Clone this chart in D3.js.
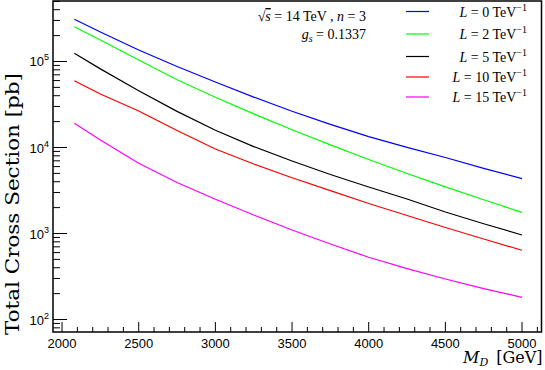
<!DOCTYPE html>
<html>
<head>
<meta charset="utf-8">
<script src="https://cdn.jsdelivr.net/npm/d3@7"></script>
<style>
body { margin: 0; background: #fff; }
svg { display: block; }
</style>
</head>
<body>
<svg id="chart"></svg>
<script>
var massPoints = [2080, 2250, 2500, 2750, 3000, 3250, 3500, 3750, 4000, 4250, 4500, 4750, 5000];
var xsecL0  = [309600, 220300, 136100, 87460, 57750, 38550, 26430, 18560, 13390, 10050, 7650, 5730, 4350];
var xsecL2  = [253900, 177800, 104100, 61430, 38340, 24590, 16060, 10720, 7250, 4990, 3480, 2470, 1760];
var xsecL5  = [124500, 82040, 45760, 26290, 15900, 10250, 6970, 4850, 3470, 2520, 1780, 1297, 961];
var xsecL10 = [59800, 41900, 26570, 15760, 9610, 6430, 4450, 3150, 2230, 1620, 1174, 863, 638];
var xsecL15 = [19110, 12220, 6570, 3910, 2500, 1640, 1098, 755, 529, 390, 296, 229, 181];
var seriesL = [0, 2, 5, 10, 15];
var xTicks = [2000, 2500, 3000, 3500, 4000, 4500, 5000];
var yTicks = [100, 1000, 10000, 100000];

var series = [
    { L: seriesL[0], values: xsecL0, color: '#0000ff' },
    { L: seriesL[1], values: xsecL2, color: '#00ff00' },
    { L: seriesL[2], values: xsecL5, color: '#000000' },
    { L: seriesL[3], values: xsecL10, color: '#ff0000' },
    { L: seriesL[4], values: xsecL15, color: '#ff00ff' }
];

var width = 545;
var height = 370;
var frame = { left: 53, right: 541.5, top: 1, bottom: 332 };

var svg = d3.select('#chart')
    .attr('width', width)
    .attr('height', height);

var x = d3.scaleLinear().domain([1941, 5127]).range([frame.left, frame.right]);
var y = d3.scaleLog().domain([71.6, 505000]).range([frame.bottom, frame.top]);

// clip the curves to the frame
svg.append('clipPath').attr('id', 'plot-clip')
    .append('rect')
    .attr('x', frame.left).attr('y', frame.top)
    .attr('width', frame.right - frame.left).attr('height', frame.bottom - frame.top);

var line = d3.line()
    .x(function (d) { return x(d[0]); })
    .y(function (d) { return y(d[1]); });

svg.append('g').attr('clip-path', 'url(#plot-clip)')
    .selectAll('path')
    .data(series)
    .enter()
    .append('path')
    .attr('d', function (s) { return line(massPoints.map(function (m, i) { return [m, s.values[i]]; })); })
    .attr('fill', 'none')
    .attr('stroke', function (s) { return s.color; })
    .attr('stroke-width', 1.2);

// x axis ticks (drawn upward from the bottom)
var xMinor = d3.range(2000, 5101, 100);
svg.append('g').selectAll('line')
    .data(xMinor)
    .enter()
    .append('line')
    .attr('x1', function (d) { return x(d); })
    .attr('x2', function (d) { return x(d); })
    .attr('y1', frame.bottom)
    .attr('y2', function (d) { return d % 500 === 0 ? frame.bottom - 10 : frame.bottom - 5; })
    .attr('stroke', '#000')
    .attr('stroke-width', 1);

svg.append('g').selectAll('text')
    .data(xTicks)
    .enter()
    .append('text')
    .attr('x', function (d) { return x(d); })
    .attr('y', frame.bottom + 16)
    .attr('text-anchor', 'middle')
    .style('font-family', 'Liberation Sans, Arial, sans-serif')
    .style('font-size', '13px')
    .text(function (d) { return d; });

// y axis ticks
var yMinor = [];
[10, 100, 1000, 10000, 100000].forEach(function (dec) {
    for (var k = 1; k < 10; k++) {
        var v = dec * k;
        if (v >= y.domain()[0] && v <= y.domain()[1]) yMinor.push(v);
    }
});
svg.append('g').selectAll('line')
    .data(yMinor)
    .enter()
    .append('line')
    .attr('x1', frame.left)
    .attr('x2', function (d) { return yTicks.indexOf(d) >= 0 ? frame.left + 14 : frame.left + 7; })
    .attr('y1', function (d) { return y(d); })
    .attr('y2', function (d) { return y(d); })
    .attr('stroke', '#000')
    .attr('stroke-width', 1);

var yLab = svg.append('g').selectAll('text')
    .data(yTicks)
    .enter()
    .append('text')
    .attr('x', frame.left - 4)
    .attr('y', function (d) { return y(d) + 5; })
    .attr('text-anchor', 'end')
    .style('font-family', 'Liberation Sans, Arial, sans-serif')
    .style('font-size', '13px');
yLab.append('tspan').text('10');
yLab.append('tspan')
    .attr('dy', -6)
    .style('font-size', '9px')
    .text(function (d) { return Math.round(Math.log10(d)); });

// frame
svg.append('rect')
    .attr('x', frame.left).attr('y', frame.top)
    .attr('width', frame.right - frame.left).attr('height', frame.bottom - frame.top)
    .attr('fill', 'none')
    .attr('stroke', '#000')
    .attr('stroke-width', 1.5);

// axis titles
svg.append('text')
    .attr('transform', 'translate(19,' + 204 + ') rotate(-90)')
    .attr('text-anchor', 'middle')
    .style('font-family', 'DejaVu Serif, serif')
    .style('font-size', '18px')
    .attr('textLength', 262)
    .attr('lengthAdjust', 'spacingAndGlyphs')
    .text('Total Cross Section [pb]');

var xt = svg.append('text')
    .attr('x', frame.right + 1)
    .attr('y', 363)
    .attr('text-anchor', 'end')
    .style('font-family', 'DejaVu Serif, serif')
    .style('font-size', '16px');
xt.append('tspan').style('font-style', 'italic').text('M');
xt.append('tspan').attr('dy', 3).style('font-size', '11px').style('font-style', 'italic').text('D');
xt.append('tspan').attr('dy', -3).text('\u2002[GeV]');

// annotation
var serif = 'Liberation Serif, serif';
var t1 = svg.append('text')
    .attr('x', 366).attr('y', 21)
    .attr('text-anchor', 'end')
    .style('font-family', serif)
    .style('font-size', '14px');
t1.append('tspan').text('\u221A');
t1.append('tspan').style('font-style', 'italic').style('text-decoration', 'overline').text('s');
t1.append('tspan').text(' = 14 TeV , ');
t1.append('tspan').style('font-style', 'italic').text('n');
t1.append('tspan').text(' = 3');

var t2 = svg.append('text')
    .attr('x', 366).attr('y', 39)
    .attr('text-anchor', 'end')
    .style('font-family', serif)
    .style('font-size', '14px');
t2.append('tspan').style('font-style', 'italic').text('g');
t2.append('tspan').attr('dy', 3).style('font-size', '10px').style('font-style', 'italic').text('s');
t2.append('tspan').attr('dy', -3).text(' = 0.1337');

// legend
var legendY = [11.5, 34, 56.5, 77, 97];
var leg = svg.append('g').selectAll('g')
    .data(series)
    .enter()
    .append('g')
    .attr('transform', function (d, i) { return 'translate(0,' + legendY[i] + ')'; });

leg.append('line')
    .attr('x1', 406).attr('x2', 429)
    .attr('stroke', function (d) { return d.color; })
    .attr('stroke-width', 1.2);

var lt = leg.append('text')
    .attr('x', 527)
    .attr('y', 5)
    .attr('text-anchor', 'end')
    .style('font-family', serif)
    .style('font-size', '14px');
lt.append('tspan').style('font-style', 'italic').text('L');
lt.append('tspan').text(function (d) { return ' = ' + d.L + ' TeV'; });
lt.append('tspan')
    .attr('dy', -6)
    .style('font-size', '10px')
    .text('\u22121');
</script>
</body>
</html>
